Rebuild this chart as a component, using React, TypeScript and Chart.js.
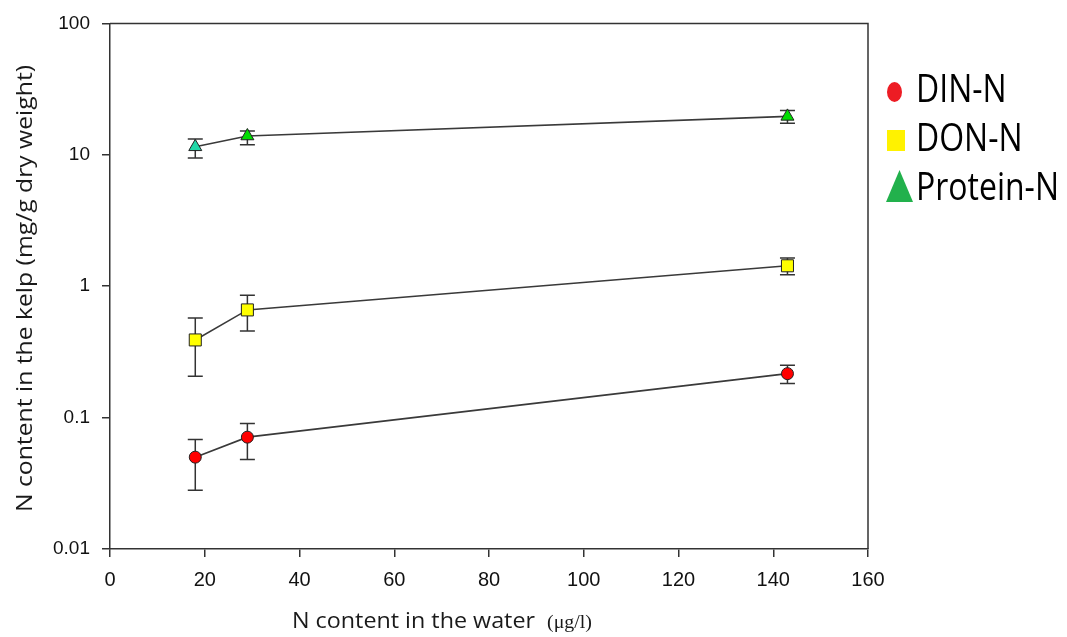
import React, { useEffect, useRef } from 'react';
import { Chart, registerables } from 'chart.js';

Chart.register(...registerables);

// ---- data ----
const xValues = [18, 29, 143];
const dinN = [0.05, 0.071, 0.216];
const dinLow = [0.028, 0.048, 0.182];
const dinHigh = [0.068, 0.09, 0.25];
const donN = [0.39, 0.66, 1.43];
const donLow = [0.206, 0.456, 1.22];
const donHigh = [0.573, 0.855, 1.64];
const proteinN = [11.5, 13.9, 19.6];
const proteinLow = [9.44, 11.9, 17.4];
const proteinHigh = [13.2, 15.2, 21.7];
const yTicks = [0.01, 0.1, 1, 10, 100];
const yTickLabels = ['0.01', '0.1', '1', '10', '100'];
const xTicks = [0, 20, 40, 60, 80, 100, 120, 140, 160];
const seriesNames = ['DIN-N', 'DON-N', 'Protein-N'];
const xTitleMain = 'N content in the water';
const xTitleUnit = '(μg/l)';
const yTitle = 'N content in the kelp (mg/g dry weight)';

const W = 1067;
const H = 637;
const AREA = { left: 110, right: 868, top: 20, bottom: 549 };

const errorBars = [
  { low: dinLow, high: dinHigh },
  { low: donLow, high: donHigh },
  { low: proteinLow, high: proteinHigh },
];

function fitText(ctx: CanvasRenderingContext2D, text: string, x: number, y: number, width: number) {
  const w = ctx.measureText(text).width;
  ctx.save();
  ctx.translate(x, y);
  ctx.scale(width / w, 1);
  ctx.fillText(text, 0, 0);
  ctx.restore();
}

const extrasPlugin = {
  id: 'extras',
  beforeDatasetsDraw(chart: any) {
    const ctx = chart.ctx;
    const xs = chart.scales.x;
    const ys = chart.scales.y;
    ctx.save();
    ctx.strokeStyle = '#333';
    ctx.lineWidth = 1.5;
    errorBars.forEach((eb) => {
      xValues.forEach((xv, i) => {
        const px = xs.getPixelForValue(xv);
        const pl = ys.getPixelForValue(eb.low[i]);
        const ph = ys.getPixelForValue(eb.high[i]);
        ctx.beginPath();
        ctx.moveTo(px, pl);
        ctx.lineTo(px, ph);
        ctx.moveTo(px - 7.5, pl);
        ctx.lineTo(px + 7.5, pl);
        ctx.moveTo(px - 7.5, ph);
        ctx.lineTo(px + 7.5, ph);
        ctx.stroke();
      });
    });
    ctx.restore();
  },
  afterDraw(chart: any) {
    const ctx = chart.ctx;
    const a = chart.chartArea;
    ctx.save();
    // frame top & right
    ctx.strokeStyle = '#333';
    ctx.lineWidth = 1.5;
    ctx.beginPath();
    ctx.moveTo(a.left, a.top);
    ctx.lineTo(a.right, a.top);
    ctx.lineTo(a.right, a.bottom);
    ctx.stroke();

    // y title
    ctx.fillStyle = '#1a1a1a';
    ctx.font = '22px "Open Sans", sans-serif';
    ctx.textAlign = 'left';
    ctx.textBaseline = 'middle';
    ctx.save();
    ctx.translate(26, 512);
    ctx.rotate(-Math.PI / 2);
    fitText(ctx, yTitle, 0, 0, 447);
    ctx.restore();

    // x title
    ctx.textAlign = 'left';
    ctx.textBaseline = 'alphabetic';
    ctx.font = '22px "Open Sans", sans-serif';
    fitText(ctx, xTitleMain, 292, 628, 243);
    ctx.font = '19px "Liberation Serif", "DejaVu Serif", serif';
    fitText(ctx, xTitleUnit, 547, 628, 45);

    // legend markers
    ctx.fillStyle = '#ed1c24';
    ctx.beginPath();
    ctx.ellipse(894.5, 92, 7.5, 10, 0, 0, Math.PI * 2);
    ctx.fill();
    ctx.fillStyle = '#fff200';
    ctx.fillRect(887, 130, 18, 21);
    ctx.fillStyle = '#22b14c';
    ctx.beginPath();
    ctx.moveTo(899.5, 170);
    ctx.lineTo(913, 202);
    ctx.lineTo(886, 202);
    ctx.closePath();
    ctx.fill();

    // legend text
    const baselines = [102, 151, 200];
    ctx.fillStyle = '#000';
    ctx.font = '38px "Open Sans", sans-serif';
    const k = 143 / ctx.measureText(seriesNames[2]).width;
    seriesNames.forEach((name, i) => {
      ctx.save();
      ctx.translate(916, baselines[i]);
      ctx.scale(k, 1);
      ctx.fillText(name, 0, 0);
      ctx.restore();
    });
    ctx.restore();
  },
};

export default function App() {
  const ref = useRef<HTMLCanvasElement | null>(null);
  useEffect(() => {
    document.body.style.margin = '0';
    const canvas = ref.current;
    if (!canvas) return;
    const toPts = (ys: number[]) => xValues.map((x, i) => ({ x, y: ys[i] }));
    const chart = new Chart(canvas, {
      type: 'line',
      data: {
        datasets: [
          {
            label: seriesNames[0],
            data: toPts(dinN),
            borderColor: '#3a3a3a',
            borderWidth: 1.6,
            pointStyle: 'circle',
            pointRadius: 6,
            pointBackgroundColor: '#ff0000',
            pointBorderColor: '#222',
            pointBorderWidth: 1,
          },
          {
            label: seriesNames[1],
            data: toPts(donN),
            borderColor: '#3a3a3a',
            borderWidth: 1.6,
            pointStyle: 'rect',
            pointRadius: 8.5,
            pointBackgroundColor: '#ffff00',
            pointBorderColor: '#222',
            pointBorderWidth: 1,
          },
          {
            label: seriesNames[2],
            data: toPts(proteinN),
            borderColor: '#3a3a3a',
            borderWidth: 1.6,
            pointStyle: 'triangle',
            pointRadius: 7.5,
            pointBackgroundColor: ['#20d8a8', '#00dd00', '#00dd00'],
            pointBorderColor: '#222',
            pointBorderWidth: 1,
          },
        ],
      },
      options: {
        responsive: false,
        animation: false,
        devicePixelRatio: 1,
        layout: {
          padding: { left: 0, right: W - AREA.right, top: AREA.top, bottom: 0 },
        },
        plugins: {
          legend: { display: false },
          tooltip: { enabled: false },
        },
        scales: {
          x: {
            type: 'linear',
            min: 0,
            max: 160,
            afterBuildTicks: (s: any) => {
              s.ticks = xTicks.map((v) => ({ value: v }));
            },
            afterFit: (s: any) => {
              s.height = H - AREA.bottom;
            },
            grid: {
              drawOnChartArea: false,
              drawTicks: true,
              tickLength: 8,
              color: '#333',
              lineWidth: 1.5,
            },
            border: { display: true, color: '#333', width: 1.5 },
            ticks: {
              padding: 11,
              color: '#111',
              font: { family: '"Liberation Sans Narrow", "Liberation Sans", Arial', size: 20 },
              maxRotation: 0,
              callback: (v: any) => String(v),
            },
          },
          y: {
            type: 'logarithmic',
            min: 0.01,
            max: 100,
            afterBuildTicks: (s: any) => {
              s.ticks = yTicks.map((v) => ({ value: v, major: true }));
            },
            afterFit: (s: any) => {
              s.width = AREA.left;
            },
            grid: {
              drawOnChartArea: false,
              drawTicks: true,
              tickLength: 8,
              color: '#333',
              lineWidth: 1.5,
            },
            border: { display: true, color: '#333', width: 1.5 },
            ticks: {
              padding: 12,
              color: '#111',
              font: { family: '"Liberation Sans", Arial', size: 19 },
              callback: (v: any) => {
                const idx = yTicks.findIndex((t) => Math.abs(t - v) / t < 1e-6);
                return idx >= 0 ? yTickLabels[idx] : '';
              },
            },
          },
        },
      },
      plugins: [extrasPlugin],
    } as any);
    return () => chart.destroy();
  }, []);
  return (
    <div style={{ position: 'absolute', left: 0, top: 0, width: W, height: H, background: '#fff' }}>
      <canvas ref={ref} width={W} height={H} style={{ width: W, height: H, display: 'block' }} />
    </div>
  );
}
